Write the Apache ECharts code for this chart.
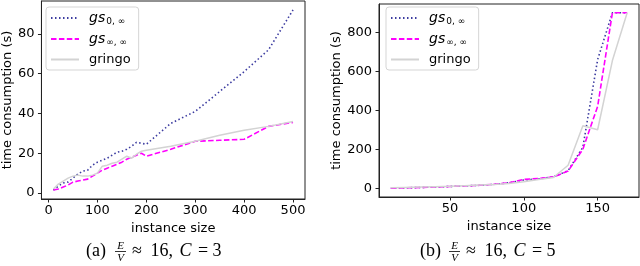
<!DOCTYPE html>
<html><head><meta charset="utf-8">
<script src="https://cdn.jsdelivr.net/npm/echarts@6/dist/echarts.min.js"></script>
<style>html,body{margin:0;padding:0;background:#fff}#c{width:640px;height:266px}</style>
</head><body><div id="c"></div>
<script>
// ---- Data: panel (a) E/V≈16, C=3 ----
const xA = [10,20,30,40,50,60,70,80,90,100,110,120,130,140,150,160,170,180,190,200,250,300,350,400,450,500];
const gs0A   = [1.5,3.5,5,5.5,7.5,9.5,11,11.5,14,15.5,16.5,17.5,19,20.5,21,22,23.5,25.5,25,24.5,35,41,51,61,72,92];
const gsInfA = [1.5,2,3,4,5.5,6,6.5,7,8.5,10,11.5,12.5,13.5,14.5,15.5,17,18,19,20,18.5,22,26,26.5,27,33.5,35.5];
const gringoA= [2,4.5,6,7.5,8.5,9,8.5,8.5,9,10,13.5,14,15,15.5,17,18.5,17.5,19.5,21,21.5,23.5,26,29,31.5,33.5,36];
// ---- Data: panel (b) E/V≈16, C=5 ----
const xB = [10,20,30,40,50,60,70,80,90,100,110,120,130,140,150,160,170];
const gs0B   = [0,2,4,6,9,12,15,20,28,42,48,58,90,210,660,900,900];
const gsInfB = [0,2,4,6,9,12,15,20,28,45,50,58,88,200,420,900,900];
const gringoB= [2,4,6,8,10,13,16,19,24,33,45,55,118,320,300,655,900];
// ---- Tick labels ----
const xTicksA = [0,100,200,300,400,500];
const yTicksA = [0,20,40,60,80];
const xTicksB = [50,100,150];
const yTicksB = [0,200,400,600,800];

const pairs = (xs, ys) => xs.map((x, i) => [x, ys[i]]);
const FONT = 'DejaVu Sans';
const styles = {
  gs0:   {color:'#3c3ca0', type:[1.5,2.5], width:1.6},
  gsInf: {color:'#ff00ff', type:[5.5,2.4], width:1.6},
  gringo:{color:'#d3d3d3', type:'solid', width:1.5}
};
function mkSeries(name, xi, yi, data, st){
  return {type:'line', name, xAxisIndex:xi, yAxisIndex:yi, data, symbol:'none', animation:false,
    lineStyle:{color:st.color, type:st.type, width:st.width}, itemStyle:{color:st.color}};
}
const legendRich = {
  i:{fontStyle:'italic', fontSize:14, fontFamily:FONT, color:'#000'},
  s:{fontSize:9, fontFamily:FONT, color:'#000', padding:[7,0,0,1]},
  n:{fontSize:13, fontFamily:FONT, color:'#000'}
};
function legendFmt(name){
  if (name.startsWith('gs0')) return '{i|gs}{s|0, ∞}';
  if (name.startsWith('gsInf')) return '{i|gs}{s|∞, ∞}';
  return '{n|gringo}';
}
function mkLegend(left, names){
  return {orient:'vertical', left, top:7, itemWidth:28, itemHeight:10, itemGap:6,
    padding:[4,8,4,4], borderColor:'#d5d5d5', borderWidth:1, borderRadius:3,
    backgroundColor:'rgba(255,255,255,0.85)', data:names, formatter:legendFmt,
    itemStyle:{color:'transparent', borderColor:'transparent', borderWidth:0, opacity:0},
    textStyle:{rich:legendRich, padding:[0,0,0,5]}};
}
const axisCommon = {
  axisLine:{show:true, onZero:false, lineStyle:{color:'#222', width:1}},
  splitLine:{show:false},
  nameTextStyle:{fontSize:13, fontFamily:FONT, color:'#000'}
};
function xAx(gi, min, max, ticks){
  return Object.assign({}, axisCommon, {type:'value', gridIndex:gi, min, max,
    name:'instance size', nameLocation:'middle', nameGap:20,
    axisTick:{show:true, length:3.5, lineStyle:{color:'#222'}, customValues:ticks},
    axisLabel:{fontSize:13, fontFamily:FONT, color:'#000', margin:5, customValues:ticks}});
}
function yAx(gi, min, max, ticks, gap){
  return Object.assign({}, axisCommon, {type:'value', gridIndex:gi, min, max,
    name:'time consumption (s)', nameLocation:'middle', nameGap:gap,
    axisTick:{show:true, length:3.5, lineStyle:{color:'#222'}, customValues:ticks},
    axisLabel:{fontSize:13, fontFamily:FONT, color:'#000', margin:7, customValues:ticks}});
}
const capRich = {
  n:{fontSize:18, fontFamily:'Liberation Serif', color:'#000'},
  i:{fontSize:18, fontFamily:'Liberation Serif', fontStyle:'italic', color:'#000', padding:[0,2,0,2]},
  r:{fontSize:18, fontFamily:'Liberation Serif', color:'#000', padding:[0,4,0,0]}
};
function caption(x0, tag, cval){
  return {type:'group', left:x0, top:241, children:[
    {type:'text', x:0, y:0, style:{text:'('+tag+')', font:'18px "Liberation Serif"', fill:'#000'}},
    {type:'text', x:34.5, y:-1, style:{text:'E', font:'italic 11px "Liberation Serif"', fill:'#000', align:'center'}},
    {type:'line', shape:{x1:29, y1:9.5, x2:40, y2:9.5}, style:{stroke:'#000', lineWidth:0.8}},
    {type:'text', x:34.5, y:10.5, style:{text:'V', font:'italic 11px "Liberation Serif"', fill:'#000', align:'center'}},
    {type:'text', x:46, y:0, style:{rich:capRich, text:'{r|≈}{n| 16, }{i|C}{n| = '+cval+'}'}}
  ]};
}
const option = {
  backgroundColor:'#fff',
  animation:false,
  textStyle:{fontFamily:FONT},
  grid:[
    {left:40, top:1, width:265, height:198, show:true, borderColor:'#222', borderWidth:1, backgroundColor:'transparent'},
    {left:379, top:4, width:260, height:193, show:true, borderColor:'#222', borderWidth:1, backgroundColor:'transparent'}
  ],
  xAxis:[ xAx(0, -14.5, 524.5, xTicksA), xAx(1, 2, 178, xTicksB) ],
  yAxis:[ yAx(0, -3, 96.5, yTicksA, 26), yAx(1, -45, 945, yTicksB, 32) ],
  legend:[ mkLegend(46, ['gs0 (a)','gsInf (a)','gringo (a)']), mkLegend(386, ['gs0 (b)','gsInf (b)','gringo (b)']) ],
  series:[
    mkSeries('gs0 (a)',0,0,pairs(xA,gs0A),styles.gs0),
    mkSeries('gsInf (a)',0,0,pairs(xA,gsInfA),styles.gsInf),
    mkSeries('gringo (a)',0,0,pairs(xA,gringoA),styles.gringo),
    mkSeries('gs0 (b)',1,1,pairs(xB,gs0B),styles.gs0),
    mkSeries('gsInf (b)',1,1,pairs(xB,gsInfB),styles.gsInf),
    mkSeries('gringo (b)',1,1,pairs(xB,gringoB),styles.gringo)
  ],
  graphic:[ caption(86,'a','3'), caption(420,'b','5') ]
};
const chart = echarts.init(document.getElementById('c'), null, {renderer:'canvas'});
chart.setOption(option);
</script></body></html>
